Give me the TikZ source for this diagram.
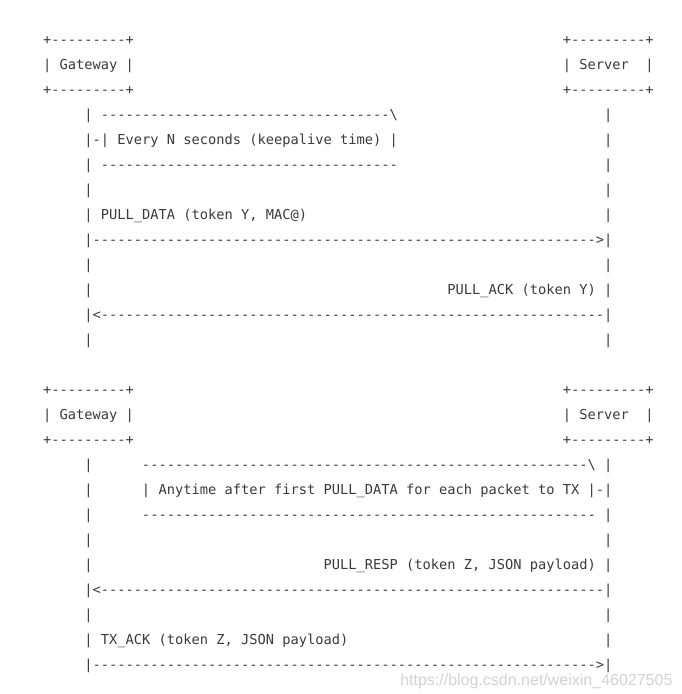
\documentclass[tikz,border=0pt]{standalone}
\usepackage{fontspec}
\setmonofont{DejaVu Sans Mono}
\newfontfamily\wmfont{Liberation Sans}
\ExplSyntaxOn
\cs_new:Npn \rdash #1 {\prg_replicate:nn{#1}{-}}
\ExplSyntaxOff
\definecolor{txt}{HTML}{3A3A3A}
\definecolor{wm}{HTML}{D2D2D2}
\tikzset{
  asc/.style={anchor=base west, inner sep=0pt, outer sep=0pt, text=txt,
    font=\ttfamily\fontsize{10.28pt}{12pt}\selectfont},
  watermark/.style={anchor=base west, inner sep=0pt, text=wm,
    font=\wmfont\fontsize{12pt}{14pt}\selectfont}
}
% \ascii{name}{col}{row}{text}
\newcommand\ascii[4]{\node[asc] (#1) at ({43+8.25*(#2)},{44+25*(#3)}) {#4};}
\begin{document}
\begin{tikzpicture}[x=0.75pt,y=-0.75pt]
\useasboundingbox (0,0) rectangle (682,694);
% ---------- first exchange ----------
\ascii{gwtopA}{0}{0}{+\rdash{9}+}
\ascii{svtopA}{63}{0}{+\rdash{9}+}
\ascii{gwA}{0}{1}{| Gateway |}
\ascii{svA}{63}{1}{| Server}
\ascii{svAr}{73}{1}{|}
\ascii{gwbotA}{0}{2}{+\rdash{9}+}
\ascii{svbotA}{63}{2}{+\rdash{9}+}
\ascii{r3a}{5}{3}{| \rdash{35}\textbackslash}
\ascii{r3b}{68}{3}{|}
\ascii{r4a}{5}{4}{|-| Every N seconds (keepalive time) |}
\ascii{r4b}{68}{4}{|}
\ascii{r5a}{5}{5}{| \rdash{36}}
\ascii{r5b}{68}{5}{|}
\ascii{r6a}{5}{6}{|}
\ascii{r6b}{68}{6}{|}
\ascii{r7a}{5}{7}{| PULL\_DATA (token Y, MAC@)}
\ascii{r7b}{68}{7}{|}
\ascii{r8}{5}{8}{|\rdash{61}>|}
\ascii{r9a}{5}{9}{|}
\ascii{r9b}{68}{9}{|}
\ascii{r10a}{5}{10}{|}
\ascii{r10b}{49}{10}{PULL\_ACK (token Y) |}
\ascii{r11}{5}{11}{|<\rdash{61}|}
\ascii{r12a}{5}{12}{|}
\ascii{r12b}{68}{12}{|}
% ---------- second exchange ----------
\ascii{gwtopB}{0}{14}{+\rdash{9}+}
\ascii{svtopB}{63}{14}{+\rdash{9}+}
\ascii{gwB}{0}{15}{| Gateway |}
\ascii{svB}{63}{15}{| Server}
\ascii{svBr}{73}{15}{|}
\ascii{gwbotB}{0}{16}{+\rdash{9}+}
\ascii{svbotB}{63}{16}{+\rdash{9}+}
\ascii{r17a}{5}{17}{|}
\ascii{r17b}{12}{17}{\rdash{54}\textbackslash}
\ascii{r17c}{68}{17}{|}
\ascii{r18a}{5}{18}{|}
\ascii{r18b}{12}{18}{| Anytime after first PULL\_DATA for each packet to TX |-|}
\ascii{r19a}{5}{19}{|}
\ascii{r19b}{12}{19}{\rdash{55}}
\ascii{r19c}{68}{19}{|}
\ascii{r20a}{5}{20}{|}
\ascii{r20b}{68}{20}{|}
\ascii{r21a}{5}{21}{|}
\ascii{r21b}{34}{21}{PULL\_RESP (token Z, JSON payload) |}
\ascii{r22}{5}{22}{|<\rdash{61}|}
\ascii{r23a}{5}{23}{|}
\ascii{r23b}{68}{23}{|}
\ascii{r24a}{5}{24}{| TX\_ACK (token Z, JSON payload)}
\ascii{r24b}{68}{24}{|}
\ascii{r25}{5}{25}{|\rdash{61}>|}
% watermark
\node[watermark] (wmark) at (400,685) {https://blog.csdn.net/weixin\_46027505};
\end{tikzpicture}
\end{document}
